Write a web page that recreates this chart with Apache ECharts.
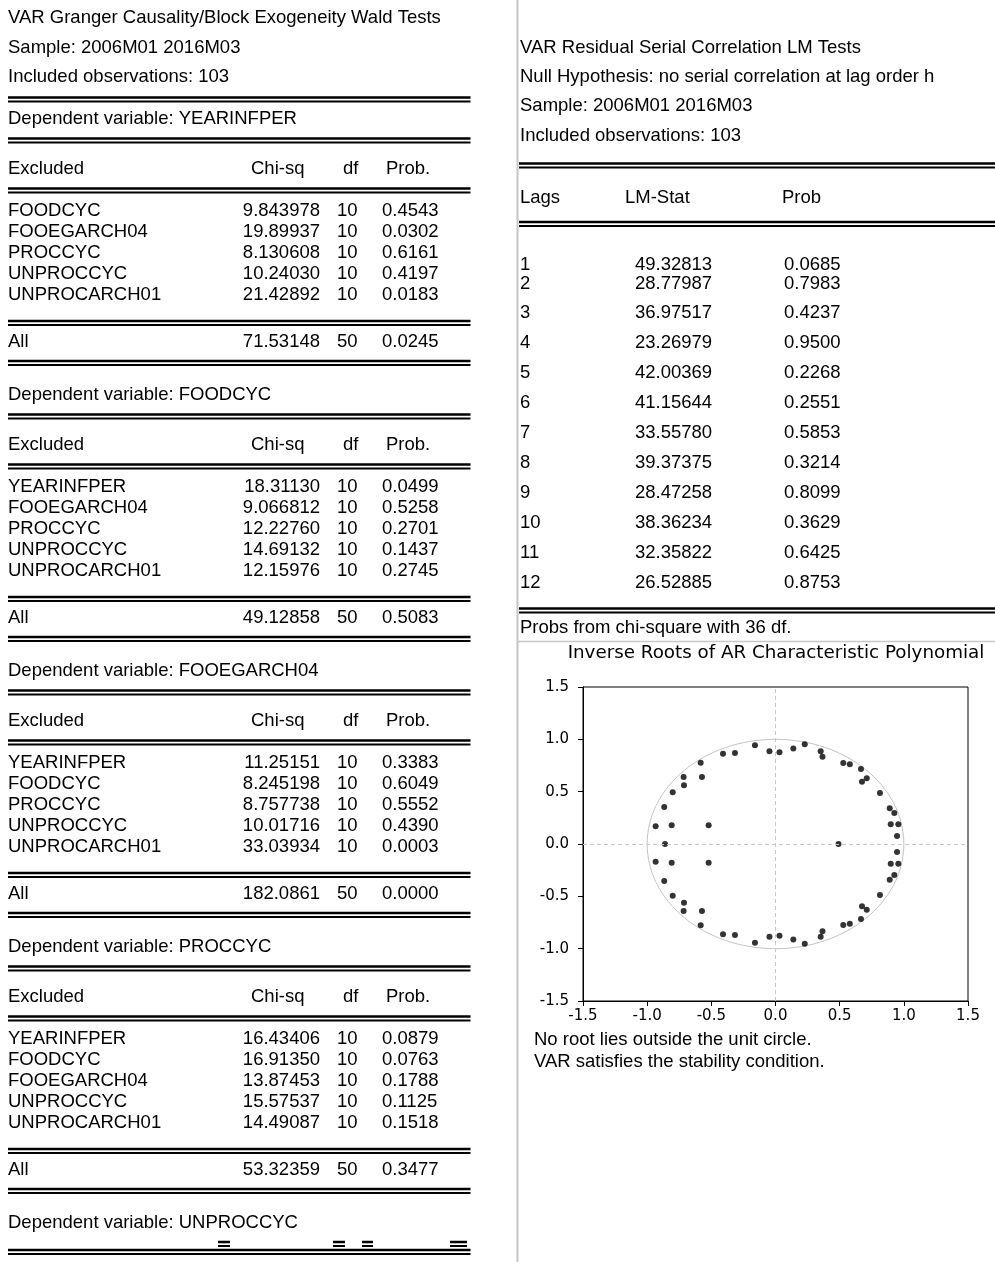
<!DOCTYPE html>
<html>
<head>
<meta charset="utf-8">
<script src="https://cdn.jsdelivr.net/npm/echarts@6/dist/echarts.min.js"></script>
<style>
  html, body { margin: 0; padding: 0; background: #fff; }
  #main { width: 995px; height: 1262px; }
</style>
</head>
<body>
<div id="main"></div>
<script>
// ---------- Granger causality / block exogeneity Wald tests ----------
const grangerHeader = [
  'VAR Granger Causality/Block Exogeneity Wald Tests',
  'Sample: 2006M01 2016M03',
  'Included observations: 103'
];
const grangerColumns = ['Excluded', 'Chi-sq', 'df', 'Prob.'];
const dependentVars = ['YEARINFPER', 'FOODCYC', 'FOOEGARCH04', 'PROCCYC', 'UNPROCCYC'];
const excludedVars = [
  ['FOODCYC', 'FOOEGARCH04', 'PROCCYC', 'UNPROCCYC', 'UNPROCARCH01'],
  ['YEARINFPER', 'FOOEGARCH04', 'PROCCYC', 'UNPROCCYC', 'UNPROCARCH01'],
  ['YEARINFPER', 'FOODCYC', 'PROCCYC', 'UNPROCCYC', 'UNPROCARCH01'],
  ['YEARINFPER', 'FOODCYC', 'FOOEGARCH04', 'UNPROCCYC', 'UNPROCARCH01']
];
const chiSq = [
  ['9.843978', '19.89937', '8.130608', '10.24030', '21.42892'],
  ['18.31130', '9.066812', '12.22760', '14.69132', '12.15976'],
  ['11.25151', '8.245198', '8.757738', '10.01716', '33.03934'],
  ['16.43406', '16.91350', '13.87453', '15.57537', '14.49087']
];
const chiDf = ['10', '10', '10', '10', '10'];
const chiProb = [
  ['0.4543', '0.0302', '0.6161', '0.4197', '0.0183'],
  ['0.0499', '0.5258', '0.2701', '0.1437', '0.2745'],
  ['0.3383', '0.6049', '0.5552', '0.4390', '0.0003'],
  ['0.0879', '0.0763', '0.1788', '0.1125', '0.1518']
];
const allChiSq = ['71.53148', '49.12858', '182.0861', '53.32359'];
const allDf = ['50', '50', '50', '50'];
const allProb = ['0.0245', '0.5083', '0.0000', '0.3477'];

// ---------- Residual serial correlation LM tests ----------
const lmHeader = [
  'VAR Residual Serial Correlation LM Tests',
  'Null Hypothesis: no serial correlation at lag order h',
  'Sample: 2006M01 2016M03',
  'Included observations: 103'
];
const lmColumns = ['Lags', 'LM-Stat', 'Prob'];
const lmLags = ['1', '2', '3', '4', '5', '6', '7', '8', '9', '10', '11', '12'];
const lmStat = ['49.32813', '28.77987', '36.97517', '23.26979', '42.00369', '41.15644',
                '33.55780', '39.37375', '28.47258', '38.36234', '32.35822', '26.52885'];
const lmProb = ['0.0685', '0.7983', '0.4237', '0.9500', '0.2268', '0.2551',
                '0.5853', '0.3214', '0.8099', '0.3629', '0.6425', '0.8753'];
const lmNote = 'Probs from chi-square with 36 df.';

// ---------- Inverse roots of the AR characteristic polynomial ----------
const rootsTitle = 'Inverse Roots of AR Characteristic Polynomial';
const rootsNotes = ['No root lies outside the unit circle.', 'VAR satisfies the stability condition.'];
const rootRe = [
  -0.160, -0.409, -0.316, -0.047, 0.031, 0.139, 0.228, 0.352, 0.366, 0.528,
   0.579,  0.666,  0.674,  0.711, 0.814, 0.890, 0.926, 0.898, 0.957, 0.947,
  -0.583, -0.716, -0.573, -0.713, -0.801, -0.867, -0.934, -0.809, -0.521,
  -0.160, -0.409, -0.316, -0.047, 0.031, 0.139, 0.228, 0.352, 0.366, 0.528,
   0.579,  0.666,  0.674,  0.711, 0.814, 0.890, 0.926, 0.898, 0.957, 0.947,
  -0.583, -0.716, -0.573, -0.713, -0.801, -0.867, -0.934, -0.809, -0.521,
  -0.861,  0.491
];
const rootIm = [
   0.943,  0.862,  0.869,  0.885, 0.876, 0.912, 0.952, 0.885, 0.834, 0.774,
   0.761,  0.716,  0.595,  0.628, 0.487, 0.341, 0.296, 0.188, 0.188, 0.076,
   0.777,  0.640,  0.640,  0.561, 0.494, 0.353, 0.169, 0.179, 0.179,
  -0.943, -0.862, -0.869, -0.885, -0.876, -0.912, -0.952, -0.885, -0.834, -0.774,
  -0.761, -0.716, -0.595, -0.628, -0.487, -0.341, -0.296, -0.188, -0.188, -0.076,
  -0.777, -0.640, -0.640, -0.561, -0.494, -0.353, -0.169, -0.179, -0.179,
   0.000,  0.000
];

// ---------- drawing helpers ----------
const FONT = 'Liberation Sans, Arial, sans-serif';
const FS = 18.5;
const INK = '#000';

function txt(x, y, s, align, size, family) {
  return {
    type: 'text', x: x, y: y, silent: true,
    style: {
      text: s, fill: INK,
      fontSize: size || FS, fontFamily: family || FONT,
      textAlign: align || 'left', textVerticalAlign: 'middle',
      align: align || 'left', verticalAlign: 'middle'
    }
  };
}
function hline(x1, x2, y, w, color) {
  return {
    type: 'line', silent: true,
    shape: { x1: x1, y1: y, x2: x2, y2: y },
    style: { stroke: color || '#000', lineWidth: w }
  };
}
function vline(x, y1, y2, w, color) {
  return {
    type: 'line', silent: true,
    shape: { x1: x, y1: y1, x2: x, y2: y2 },
    style: { stroke: color, lineWidth: w }
  };
}
function dbl(x1, x2, y) {
  return [hline(x1, x2, y, 2.5), hline(x1, x2, y + 4, 2)];
}

const els = [];

// left table
const LX0 = 8, LX1 = 470.5;
const COL_CHI_R = 320, COL_DF = 337, COL_PROB = 382;
const HDR_X = [8, 251, 343, 386];
grangerHeader.forEach((s, i) => els.push(txt(LX0, 18 + i * 29.5, s)));
els.push(...dbl(LX0, LX1, 97.5));
dependentVars.forEach((dep, k) => {
  const D = 119 + k * 276;
  els.push(txt(LX0, D, 'Dependent variable: ' + dep));
  if (k < excludedVars.length) {
    els.push(...dbl(LX0, LX1, D + 19.5));
    grangerColumns.forEach((c, j) => els.push(txt(HDR_X[j], D + 50, c)));
    els.push(...dbl(LX0, LX1, D + 69.5));
    excludedVars[k].forEach((name, i) => {
      const y = D + 92 + i * 21;
      els.push(txt(LX0, y, name));
      els.push(txt(COL_CHI_R, y, chiSq[k][i], 'right'));
      els.push(txt(COL_DF, y, chiDf[i]));
      els.push(txt(COL_PROB, y, chiProb[k][i]));
    });
    els.push(...dbl(LX0, LX1, D + 202));
    els.push(txt(LX0, D + 223, 'All'));
    els.push(txt(COL_CHI_R, D + 223, allChiSq[k], 'right'));
    els.push(txt(COL_DF, D + 223, allDf[k]));
    els.push(txt(COL_PROB, D + 223, allProb[k]));
    els.push(...dbl(LX0, LX1, D + 242));
  } else {
    // table continues below: rule with the column joints stepped up
    els.push(...dbl(LX0, LX1, D + 27));
    [[218, 230], [333, 345], [362, 373], [450, 467]].forEach(([a, b]) => {
      els.push(...dbl(a, b, D + 19));
    });
  }
});

// right table
const RX0 = 520, RX1 = 995;
const LM_COL = [520, 625, 782];
lmHeader.forEach((s, i) => els.push(txt(RX0, 48 + i * 29.2, s)));
els.push(...dbl(RX0 - 1, RX1, 163.5));
lmColumns.forEach((c, j) => els.push(txt(LM_COL[j], 198, c)));
els.push(...dbl(RX0 - 1, RX1, 222));
lmLags.forEach((lag, i) => {
  const y = i === 0 ? 265 : (i === 1 ? 284 : 313 + (i - 2) * 30);
  els.push(txt(RX0, y, lag));
  els.push(txt(635, y, lmStat[i]));
  els.push(txt(784, y, lmProb[i]));
});
els.push(...dbl(RX0 - 1, RX1, 608.5));
els.push(txt(RX0, 628, lmNote));
els.push(hline(RX0 - 2, RX1, 641.5, 1.5, '#c8c8c8'));

// panel divider
els.push(vline(517.5, 0, 1262, 2, '#c6c6c6'));

// roots chart title and notes
const GFONT = 'DejaVu Sans, Verdana, sans-serif';
els.push(txt(776, 653, rootsTitle, 'center', 18.3, GFONT));
rootsNotes.forEach((s, i) => els.push(txt(534, 1040 + i * 22, s, 'left', 18.5)));

const chart = echarts.init(document.getElementById('main'), null, { renderer: 'canvas', width: 995, height: 1262 });

const axisCommon = {
  type: 'value', min: -1.5, max: 1.5, interval: 0.5,
  axisLine: { show: true, onZero: false, lineStyle: { color: '#000', width: 1 } },
  axisTick: { show: true, inside: false, length: 5, lineStyle: { color: '#000', width: 1 } },
  splitLine: { show: false },
  axisLabel: {
    show: true, color: '#000', fontFamily: GFONT, fontSize: 15,
    showMinLabel: true, showMaxLabel: true,
    formatter: v => v.toFixed(1)
  }
};

chart.setOption({
  animation: false,
  backgroundColor: '#fff',
  grid: {
    left: 583, top: 687, width: 385, height: 314,
    show: true, borderColor: '#000', borderWidth: 1,
    containLabel: false, outerBoundsMode: 'none'
  },
  xAxis: Object.assign({}, axisCommon, {
    position: 'bottom',
    axisLabel: Object.assign({}, axisCommon.axisLabel, { margin: 8 })
  }),
  yAxis: Object.assign({}, axisCommon, {
    position: 'left',
    axisLabel: Object.assign({}, axisCommon.axisLabel, { margin: 14 })
  }),
  graphic: { elements: els },
  series: [
    {
      // unit circle plus the two zero reference lines
      type: 'custom',
      silent: true,
      z: 1,
      data: [[0, 0]],
      renderItem: function (params, api) {
        const c = api.coord([0, 0]);
        const rx = api.size([1, 0])[0];
        const ry = api.size([0, 1])[1];
        return {
          type: 'ellipse',
          shape: { cx: c[0], cy: c[1], rx: rx, ry: ry },
          style: { fill: 'none', stroke: '#c4c4c4', lineWidth: 1 }
        };
      },
      markLine: {
        silent: true,
        symbol: ['none', 'none'],
        label: { show: false },
        lineStyle: { color: '#c8c8c8', type: [4, 3], width: 1 },
        data: [{ xAxis: 0 }, { yAxis: 0 }]
      }
    },
    {
      type: 'scatter',
      z: 3,
      symbol: 'circle',
      symbolSize: 6,
      itemStyle: { color: '#000' },
      data: rootRe.map((re, i) => [re, rootIm[i]])
    }
  ]
});
</script>
</body>
</html>
